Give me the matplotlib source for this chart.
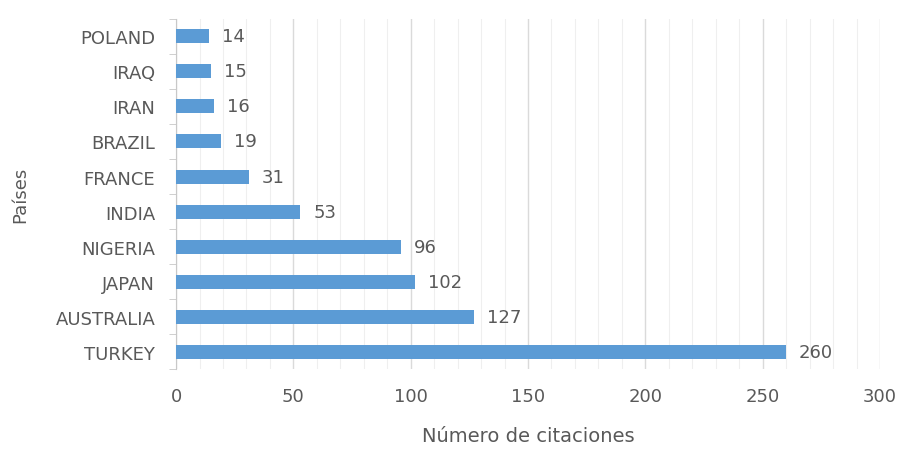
import matplotlib.pyplot as plt
import numpy as np

# Citaciones por país
paises = ['TURKEY', 'AUSTRALIA', 'JAPAN', 'NIGERIA', 'INDIA',
          'FRANCE', 'BRAZIL', 'IRAN', 'IRAQ', 'POLAND']
citaciones = [260, 127, 102, 96, 53, 31, 19, 16, 15, 14]

gris = '#595959'
azul = '#5B9BD5'

fig = plt.figure(figsize=(9.03, 4.52), dpi=100)
ax = fig.add_axes([0.195, 0.181, 0.7795, 0.775])

y = np.arange(len(paises))
ax.barh(y, citaciones, height=0.4, color=azul, zorder=3)

for yi, v in zip(y, citaciones):
    ax.text(v + 5.5, yi, str(v), va='center', ha='left', fontsize=13, color=gris)

ax.set_xlim(0, 300)
ax.set_ylim(-0.5, len(paises) - 0.5)
ax.set_xticks(np.arange(0, 301, 50))
ax.set_xticks(np.arange(0, 301, 10), minor=True)
ax.set_yticks(y)
ax.set_yticklabels(paises)
ax.set_yticks(np.arange(-0.5, len(paises), 1), minor=True)

ax.grid(axis='x', which='major', color='#dadada', linewidth=1, zorder=0)
ax.grid(axis='x', which='minor', color='#efefef', linewidth=0.8, zorder=0)

for s in ['top', 'right', 'bottom']:
    ax.spines[s].set_visible(False)
ax.spines['left'].set_color('#c8c8c8')

ax.tick_params(axis='x', which='both', length=0, labelsize=13, labelcolor=gris, pad=13)
ax.tick_params(axis='y', which='major', length=0, labelsize=13, labelcolor=gris, pad=15)
ax.tick_params(axis='y', which='minor', length=5, color='#c8c8c8')

ax.set_xlabel('Número de citaciones', fontsize=14, color=gris, labelpad=15)
ax.set_ylabel('Países', fontsize=13, color=gris, labelpad=19)

fig.savefig('out.png', dpi=100)
